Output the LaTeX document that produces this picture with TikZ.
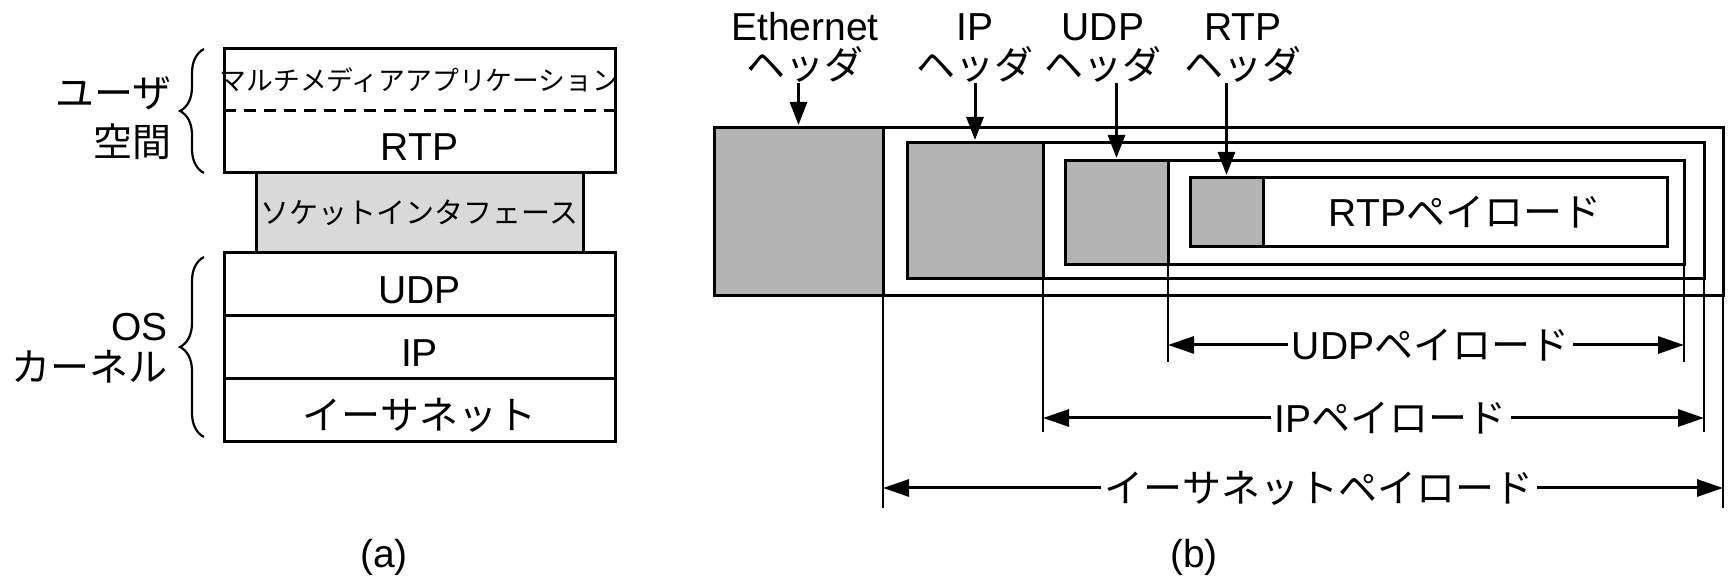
\documentclass[tikz,border=0pt]{standalone}
\usepackage{fontspec}
\setmainfont{Liberation Sans}
\newfontfamily\jp{Noto Sans CJK JP}
\usepackage{tikz}
\usetikzlibrary{arrows.meta, positioning, decorations.pathreplacing, calc}
\definecolor{hdrgray}{RGB}{179,179,179}
\definecolor{sockgray}{RGB}{217,217,217}

\begin{document}
\begin{tikzpicture}[x=0.5pt, y=-0.5pt,
   node distance=0pt,
   txt/.style={font=\fontsize{19.5}{19.5}\selectfont},
   layer/.style={draw, line width=1.5pt, minimum width=195.5pt,
                 minimum height=31.5pt, inner sep=0pt, outer sep=0pt, txt},
   low/.style={text height=19pt, text depth=0pt},
   frame/.style={draw, line width=1.5pt, inner sep=0pt, outer sep=0pt,
                 anchor=north west},
   hdr/.style={frame, fill=hdrgray},
   brc/.style={decorate, decoration={brace, amplitude=12pt}, line width=1.1pt},
   lbl/.style={txt, inner sep=0pt, align=center},
   arr/.style={-{Triangle[length=11.5pt, width=8.5pt]}, line width=1.5pt,
               shorten >=1.5pt},
   ext/.style={line width=1.3pt},
   dim/.style={{Triangle[length=13pt, width=8.5pt]}-{Triangle[length=13pt, width=8.5pt]},
               line width=1.5pt},
   dimlbl/.style={txt, fill=white, inner sep=2pt}]

  \useasboundingbox (0,0) rectangle (1730,581);

  % (a) protocol stack
  \node[layer, draw=none, minimum height=31pt,
        font=\jp\fontsize{13.4}{13.4}\selectfont] (app) at (419.5,80)
        {\makebox[0pt]{マルチメディアアプリケーション}};
  \node[layer, draw=none, low, minimum height=31pt, below=of app] (rtp) {RTP};
  \draw[line width=1.5pt] (app.north west) rectangle (rtp.south east);
  \draw[line width=1.5pt, dash pattern=on 6pt off 4pt] (app.south west) -- (app.south east);

  \node[layer, fill=sockgray, minimum width=163.5pt, minimum height=40pt,
        font=\jp\fontsize{14.5}{14.5}\selectfont, below=of rtp] (sock)
        {ソケットインタフェース};
  \node[layer, low, below=of sock] (udp) {UDP};
  \node[layer, low, below=of udp] (ip) {IP};
  \node[layer, low, below=of ip, font=\jp\fontsize{19.5}{19.5}\selectfont] (eth) {イーサネット};

  \draw[brc] ([xshift=-10pt]rtp.south west) -- ([xshift=-10pt]app.north west);
  \draw[brc] ([xshift=-10pt, yshift=2.5pt]eth.south west)
          -- ([xshift=-10pt, yshift=-2pt]udp.north west);

  \node[lbl, anchor=east] (usr1) at (172,93) {\jp ユーザ};
  \node[lbl, anchor=east] (usr2) at (172,142) {\jp 空間};
  \node[lbl, anchor=east] (os1) at (168,327) {OS};
  \node[lbl, anchor=east] (os2) at (168,367) {\jp カーネル};

  % (b) encapsulation
  \node[frame, minimum width=504.5pt, minimum height=84pt] (ethf) at (714,128) {};
  \node[hdr, minimum width=84.5pt, minimum height=84pt] (ethh) at (714,128) {};
  \node[frame, minimum width=398.5pt, minimum height=68pt] (ipf) at (907,143) {};
  \node[hdr, minimum width=68pt, minimum height=68pt] (iph) at (907,143) {};
  \node[frame, minimum width=309.5pt, minimum height=52pt] (udpf) at (1065,161) {};
  \node[hdr, minimum width=51.5pt, minimum height=52pt] (udph) at (1065,161) {};
  \node[frame, minimum width=238.5pt, minimum height=34.5pt] (rtpf) at (1190,178) {};
  \node[hdr, minimum width=36.5pt, minimum height=34.5pt] (rtph) at (1190,178) {};
  \node[lbl] (rtppl) at ($(rtph.east)!0.5!(rtpf.east)$) {RTP{\jp ペイロード}};

  \node[lbl, anchor=south] (ethl) at (805,83) {Ethernet\\{\jp ヘッダ}};
  \node[lbl, anchor=south] (ipl) at (975,83) {IP\\{\jp ヘッダ}};
  \node[lbl, anchor=south] (udpl) at (1103,83) {UDP\\{\jp ヘッダ}};
  \node[lbl, anchor=south] (rtpl) at (1243,83) {RTP\\{\jp ヘッダ}};

  \draw[arr] (ethl.south -| ethh.north) -- (ethh.north);
  \draw[arr] (ipl.south -| iph.north) -- (iph.north);
  \draw[arr] (udpl.south -| udph.north) -- (udph.north);
  \draw[arr] (rtpl.south -| rtph.north) -- (rtph.north);

  \draw[ext] (udph.north east) -- (udph.east |- 0,362) coordinate (udpa);
  \draw[ext] (udpf.north east) -- (udpf.east |- 0,362) coordinate (udpb);
  \draw[ext] (iph.north east) -- (iph.east |- 0,432) coordinate (ipa);
  \draw[ext] (ipf.north east) -- (ipf.east |- 0,432) coordinate (ipb);
  \draw[ext] (ethh.north east) -- (ethh.east |- 0,508) coordinate (etha);
  \draw[ext] (ethf.north east) -- (ethf.east |- 0,508) coordinate (ethb);

  \draw[dim] ([yshift=8.5pt]udpa) -- node[dimlbl, pos=0.509] (udppl) {UDP{\jp ペイロード}} ([yshift=8.5pt]udpb);
  \draw[dim] ([yshift=7pt]ipa) -- node[dimlbl, pos=0.526] (ippl) {IP{\jp ペイロード}} ([yshift=7pt]ipb);
  \draw[dim] ([yshift=10pt]etha) -- node[dimlbl, pos=0.519] (ethpl) {{\jp イーサネットペイロード}} ([yshift=10pt]ethb);

  \node[txt] (capa) at (384,557) {(a)};
  \node[txt] (capb) at (1194,557) {(b)};
\end{tikzpicture}
\end{document}
